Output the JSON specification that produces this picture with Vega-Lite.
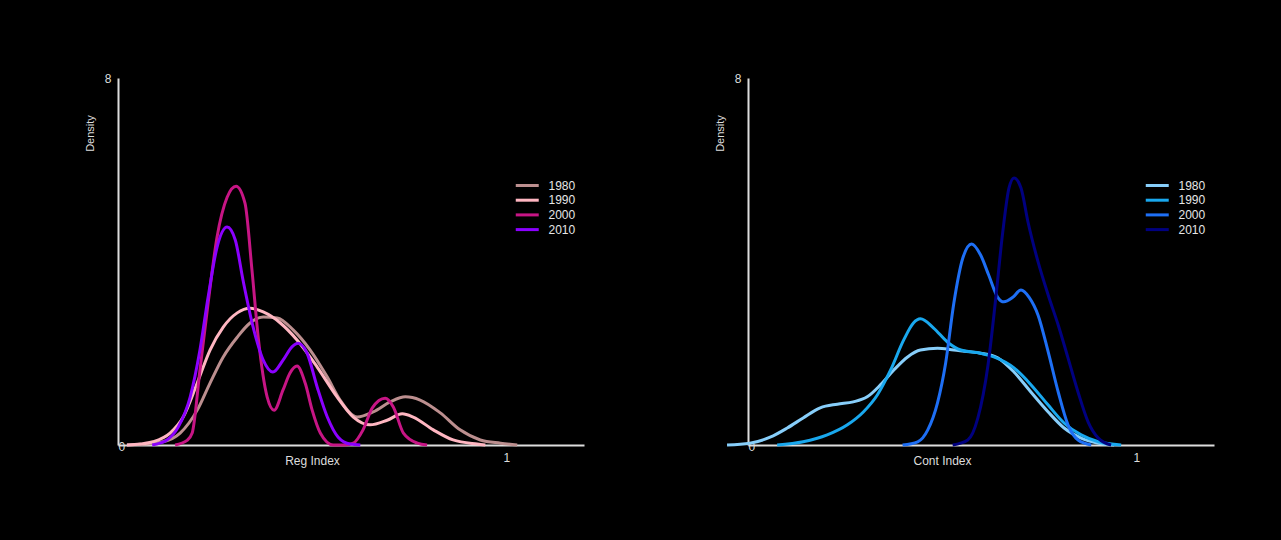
{
  "$schema": "https://vega.github.io/schema/vega-lite/v6.json",
  "background": "black",
  "padding": {"left": 84, "top": 72, "right": 67, "bottom": 74},
  "bounds": "flush",
  "spacing": 164,
  "config": {
    "view": {"stroke": null},
    "font": "Liberation Sans",
    "axis": {
      "grid": false,
      "ticks": false,
      "domainColor": "#dddddd",
      "domainWidth": 2,
      "labelColor": "#dddddd",
      "titleColor": "#dddddd",
      "labelFontSize": 12,
      "titleFontSize": 12,
      "titleFontWeight": "normal"
    },
    "legend": {
      "title": null,
      "symbolType": "M-2,0H2",
      "symbolSize": 132,
      "symbolStrokeWidth": 3,
      "labelFontSize": 12,
      "labelColor": "#e6e6e6",
      "labelOffset": 13.75,
      "rowPadding": 0.7,
      "padding": 0
    }
  },
  "datasets": {
    "reg": [
      {"year": "1980", "x": 0.023, "y": 0}, {"year": "1980", "x": 0.07, "y": 0.02}, {"year": "1980", "x": 0.116, "y": 0.07}, {"year": "1980", "x": 0.16, "y": 0.26}, {"year": "1980", "x": 0.204, "y": 0.76}, {"year": "1980", "x": 0.237, "y": 1.35}, {"year": "1980", "x": 0.271, "y": 1.92}, {"year": "1980", "x": 0.307, "y": 2.35}, {"year": "1980", "x": 0.34, "y": 2.66}, {"year": "1980", "x": 0.374, "y": 2.79}, {"year": "1980", "x": 0.41, "y": 2.77}, {"year": "1980", "x": 0.451, "y": 2.51}, {"year": "1980", "x": 0.495, "y": 2.07}, {"year": "1980", "x": 0.539, "y": 1.48}, {"year": "1980", "x": 0.572, "y": 0.98}, {"year": "1980", "x": 0.616, "y": 0.61}, {"year": "1980", "x": 0.657, "y": 0.72}, {"year": "1980", "x": 0.701, "y": 0.94}, {"year": "1980", "x": 0.74, "y": 1.05}, {"year": "1980", "x": 0.778, "y": 0.98}, {"year": "1980", "x": 0.83, "y": 0.7}, {"year": "1980", "x": 0.881, "y": 0.33}, {"year": "1980", "x": 0.933, "y": 0.11}, {"year": "1980", "x": 0.985, "y": 0.04}, {"year": "1980", "x": 1.028, "y": 0},
      {"year": "1990", "x": 0.023, "y": 0}, {"year": "1990", "x": 0.057, "y": 0.02}, {"year": "1990", "x": 0.09, "y": 0.07}, {"year": "1990", "x": 0.134, "y": 0.26}, {"year": "1990", "x": 0.168, "y": 0.61}, {"year": "1990", "x": 0.204, "y": 1.35}, {"year": "1990", "x": 0.237, "y": 2.07}, {"year": "1990", "x": 0.271, "y": 2.57}, {"year": "1990", "x": 0.307, "y": 2.88}, {"year": "1990", "x": 0.34, "y": 2.98}, {"year": "1990", "x": 0.374, "y": 2.9}, {"year": "1990", "x": 0.418, "y": 2.66}, {"year": "1990", "x": 0.461, "y": 2.29}, {"year": "1990", "x": 0.513, "y": 1.7}, {"year": "1990", "x": 0.564, "y": 1.05}, {"year": "1990", "x": 0.606, "y": 0.61}, {"year": "1990", "x": 0.649, "y": 0.44}, {"year": "1990", "x": 0.693, "y": 0.54}, {"year": "1990", "x": 0.732, "y": 0.68}, {"year": "1990", "x": 0.76, "y": 0.61}, {"year": "1990", "x": 0.812, "y": 0.33}, {"year": "1990", "x": 0.863, "y": 0.11}, {"year": "1990", "x": 0.925, "y": 0.02}, {"year": "1990", "x": 0.946, "y": 0},
      {"year": "2000", "x": 0.147, "y": 0}, {"year": "2000", "x": 0.178, "y": 0.1}, {"year": "2000", "x": 0.191, "y": 0.26}, {"year": "2000", "x": 0.211, "y": 1.63}, {"year": "2000", "x": 0.232, "y": 3.09}, {"year": "2000", "x": 0.255, "y": 4.53}, {"year": "2000", "x": 0.281, "y": 5.4}, {"year": "2000", "x": 0.304, "y": 5.64}, {"year": "2000", "x": 0.327, "y": 5.27}, {"year": "2000", "x": 0.345, "y": 3.81}, {"year": "2000", "x": 0.361, "y": 2.35}, {"year": "2000", "x": 0.384, "y": 1.05}, {"year": "2000", "x": 0.402, "y": 0.76}, {"year": "2000", "x": 0.425, "y": 1.2}, {"year": "2000", "x": 0.443, "y": 1.57}, {"year": "2000", "x": 0.461, "y": 1.72}, {"year": "2000", "x": 0.482, "y": 1.35}, {"year": "2000", "x": 0.5, "y": 0.76}, {"year": "2000", "x": 0.521, "y": 0.26}, {"year": "2000", "x": 0.554, "y": 0}, {"year": "2000", "x": 0.585, "y": 0}, {"year": "2000", "x": 0.606, "y": 0.04}, {"year": "2000", "x": 0.631, "y": 0.33}, {"year": "2000", "x": 0.655, "y": 0.81}, {"year": "2000", "x": 0.688, "y": 1.02}, {"year": "2000", "x": 0.709, "y": 0.83}, {"year": "2000", "x": 0.735, "y": 0.26}, {"year": "2000", "x": 0.771, "y": 0.04}, {"year": "2000", "x": 0.796, "y": 0},
      {"year": "2010", "x": 0.088, "y": 0}, {"year": "2010", "x": 0.126, "y": 0.11}, {"year": "2010", "x": 0.155, "y": 0.39}, {"year": "2010", "x": 0.186, "y": 1.05}, {"year": "2010", "x": 0.211, "y": 2.07}, {"year": "2010", "x": 0.232, "y": 3.22}, {"year": "2010", "x": 0.255, "y": 4.31}, {"year": "2010", "x": 0.281, "y": 4.75}, {"year": "2010", "x": 0.302, "y": 4.47}, {"year": "2010", "x": 0.322, "y": 3.59}, {"year": "2010", "x": 0.348, "y": 2.57}, {"year": "2010", "x": 0.374, "y": 1.85}, {"year": "2010", "x": 0.399, "y": 1.59}, {"year": "2010", "x": 0.425, "y": 1.85}, {"year": "2010", "x": 0.448, "y": 2.14}, {"year": "2010", "x": 0.464, "y": 2.22}, {"year": "2010", "x": 0.487, "y": 2.0}, {"year": "2010", "x": 0.513, "y": 1.26}, {"year": "2010", "x": 0.539, "y": 0.61}, {"year": "2010", "x": 0.567, "y": 0.17}, {"year": "2010", "x": 0.598, "y": 0.02}, {"year": "2010", "x": 0.624, "y": 0}
    ],
    "cont": [
      {"year": "1980", "x": -0.054, "y": 0}, {"year": "1980", "x": 0.005, "y": 0.04}, {"year": "1980", "x": 0.057, "y": 0.17}, {"year": "1980", "x": 0.101, "y": 0.37}, {"year": "1980", "x": 0.142, "y": 0.59}, {"year": "1980", "x": 0.186, "y": 0.81}, {"year": "1980", "x": 0.23, "y": 0.89}, {"year": "1980", "x": 0.271, "y": 0.94}, {"year": "1980", "x": 0.307, "y": 1.05}, {"year": "1980", "x": 0.341, "y": 1.31}, {"year": "1980", "x": 0.375, "y": 1.63}, {"year": "1980", "x": 0.411, "y": 1.92}, {"year": "1980", "x": 0.444, "y": 2.07}, {"year": "1980", "x": 0.488, "y": 2.11}, {"year": "1980", "x": 0.53, "y": 2.07}, {"year": "1980", "x": 0.574, "y": 2.03}, {"year": "1980", "x": 0.599, "y": 2.0}, {"year": "1980", "x": 0.643, "y": 1.9}, {"year": "1980", "x": 0.685, "y": 1.59}, {"year": "1980", "x": 0.729, "y": 1.15}, {"year": "1980", "x": 0.773, "y": 0.72}, {"year": "1980", "x": 0.814, "y": 0.37}, {"year": "1980", "x": 0.858, "y": 0.15}, {"year": "1980", "x": 0.902, "y": 0.04}, {"year": "1980", "x": 0.943, "y": 0},
      {"year": "1990", "x": 0.075, "y": 0}, {"year": "1990", "x": 0.142, "y": 0.07}, {"year": "1990", "x": 0.204, "y": 0.22}, {"year": "1990", "x": 0.256, "y": 0.44}, {"year": "1990", "x": 0.297, "y": 0.72}, {"year": "1990", "x": 0.333, "y": 1.09}, {"year": "1990", "x": 0.367, "y": 1.63}, {"year": "1990", "x": 0.401, "y": 2.29}, {"year": "1990", "x": 0.426, "y": 2.66}, {"year": "1990", "x": 0.444, "y": 2.75}, {"year": "1990", "x": 0.478, "y": 2.55}, {"year": "1990", "x": 0.514, "y": 2.24}, {"year": "1990", "x": 0.548, "y": 2.07}, {"year": "1990", "x": 0.599, "y": 2.0}, {"year": "1990", "x": 0.633, "y": 1.92}, {"year": "1990", "x": 0.685, "y": 1.68}, {"year": "1990", "x": 0.729, "y": 1.31}, {"year": "1990", "x": 0.773, "y": 0.87}, {"year": "1990", "x": 0.814, "y": 0.48}, {"year": "1990", "x": 0.858, "y": 0.22}, {"year": "1990", "x": 0.902, "y": 0.07}, {"year": "1990", "x": 0.961, "y": 0},
      {"year": "2000", "x": 0.398, "y": 0}, {"year": "2000", "x": 0.437, "y": 0.07}, {"year": "2000", "x": 0.463, "y": 0.33}, {"year": "2000", "x": 0.488, "y": 0.92}, {"year": "2000", "x": 0.509, "y": 1.79}, {"year": "2000", "x": 0.53, "y": 3.09}, {"year": "2000", "x": 0.553, "y": 4.07}, {"year": "2000", "x": 0.576, "y": 4.38}, {"year": "2000", "x": 0.599, "y": 4.14}, {"year": "2000", "x": 0.62, "y": 3.7}, {"year": "2000", "x": 0.643, "y": 3.22}, {"year": "2000", "x": 0.659, "y": 3.12}, {"year": "2000", "x": 0.682, "y": 3.22}, {"year": "2000", "x": 0.703, "y": 3.38}, {"year": "2000", "x": 0.724, "y": 3.22}, {"year": "2000", "x": 0.747, "y": 2.83}, {"year": "2000", "x": 0.773, "y": 2.03}, {"year": "2000", "x": 0.799, "y": 1.15}, {"year": "2000", "x": 0.824, "y": 0.44}, {"year": "2000", "x": 0.85, "y": 0.11}, {"year": "2000", "x": 0.884, "y": 0},
      {"year": "2010", "x": 0.527, "y": 0}, {"year": "2010", "x": 0.566, "y": 0.11}, {"year": "2010", "x": 0.592, "y": 0.59}, {"year": "2010", "x": 0.618, "y": 1.74}, {"year": "2010", "x": 0.638, "y": 3.2}, {"year": "2010", "x": 0.656, "y": 4.64}, {"year": "2010", "x": 0.672, "y": 5.6}, {"year": "2010", "x": 0.685, "y": 5.82}, {"year": "2010", "x": 0.703, "y": 5.6}, {"year": "2010", "x": 0.721, "y": 4.86}, {"year": "2010", "x": 0.747, "y": 3.99}, {"year": "2010", "x": 0.773, "y": 3.27}, {"year": "2010", "x": 0.799, "y": 2.61}, {"year": "2010", "x": 0.824, "y": 1.9}, {"year": "2010", "x": 0.85, "y": 1.15}, {"year": "2010", "x": 0.876, "y": 0.5}, {"year": "2010", "x": 0.902, "y": 0.15}, {"year": "2010", "x": 0.935, "y": 0}
    ]
  },
  "hconcat": [
    {
      "data": {"name": "reg"},
      "width": 466,
      "height": 367,
      "mark": {"type": "line", "strokeWidth": 3, "interpolate": "monotone", "clip": false},
      "encoding": {
        "x": {
          "field": "x", "type": "quantitative",
          "scale": {"domain": [0, 1.2], "nice": false, "zero": false},
          "axis": {
            "title": "Reg Index", "values": [0, 1], "format": "d",
            "labelBaseline": "middle",
            "labelPadding": {"condition": {"test": "datum.value == 0", "value": 1}, "value": 12},
            "titleX": 194, "titleY": 15, "titleBaseline": "middle", "titleAlign": "center"
          }
        },
        "y": {
          "field": "y", "type": "quantitative",
          "scale": {"domain": [0, 8], "nice": false},
          "axis": {
            "title": "Density", "values": [8], "format": "d", "labelPadding": 7,
            "titleFontSize": 11, "titleX": -28, "titleY": 55, "titleAngle": -90,
            "titleAlign": "center", "titleBaseline": "middle"
          }
        },
        "color": {
          "field": "year", "type": "nominal",
          "scale": {"domain": ["1980", "1990", "2000", "2010"], "range": ["#bc8f8f", "#ffb6c1", "#c71585", "#8b00ff"]},
          "legend": {"orient": "none", "legendX": 401.75, "legendY": 100}
        }
      }
    },
    {
      "data": {"name": "cont"},
      "width": 466,
      "height": 367,
      "mark": {"type": "line", "strokeWidth": 3, "interpolate": "monotone", "clip": false},
      "encoding": {
        "x": {
          "field": "x", "type": "quantitative",
          "scale": {"domain": [0, 1.2], "nice": false, "zero": false},
          "axis": {
            "title": "Cont Index", "values": [0, 1], "format": "d",
            "labelBaseline": "middle",
            "labelPadding": {"condition": {"test": "datum.value == 0", "value": 1}, "value": 12},
            "titleX": 194, "titleY": 15, "titleBaseline": "middle", "titleAlign": "center"
          }
        },
        "y": {
          "field": "y", "type": "quantitative",
          "scale": {"domain": [0, 8], "nice": false},
          "axis": {
            "title": "Density", "values": [8], "format": "d", "labelPadding": 7,
            "titleFontSize": 11, "titleX": -28, "titleY": 55, "titleAngle": -90,
            "titleAlign": "center", "titleBaseline": "middle"
          }
        },
        "color": {
          "field": "year", "type": "nominal",
          "scale": {"domain": ["1980", "1990", "2000", "2010"], "range": ["#87cefa", "#19a8ee", "#1e6ff5", "#000080"]},
          "legend": {"orient": "none", "legendX": 401.75, "legendY": 100}
        }
      }
    }
  ],
  "resolve": {"scale": {"color": "independent"}, "legend": {"color": "independent"}}
}
